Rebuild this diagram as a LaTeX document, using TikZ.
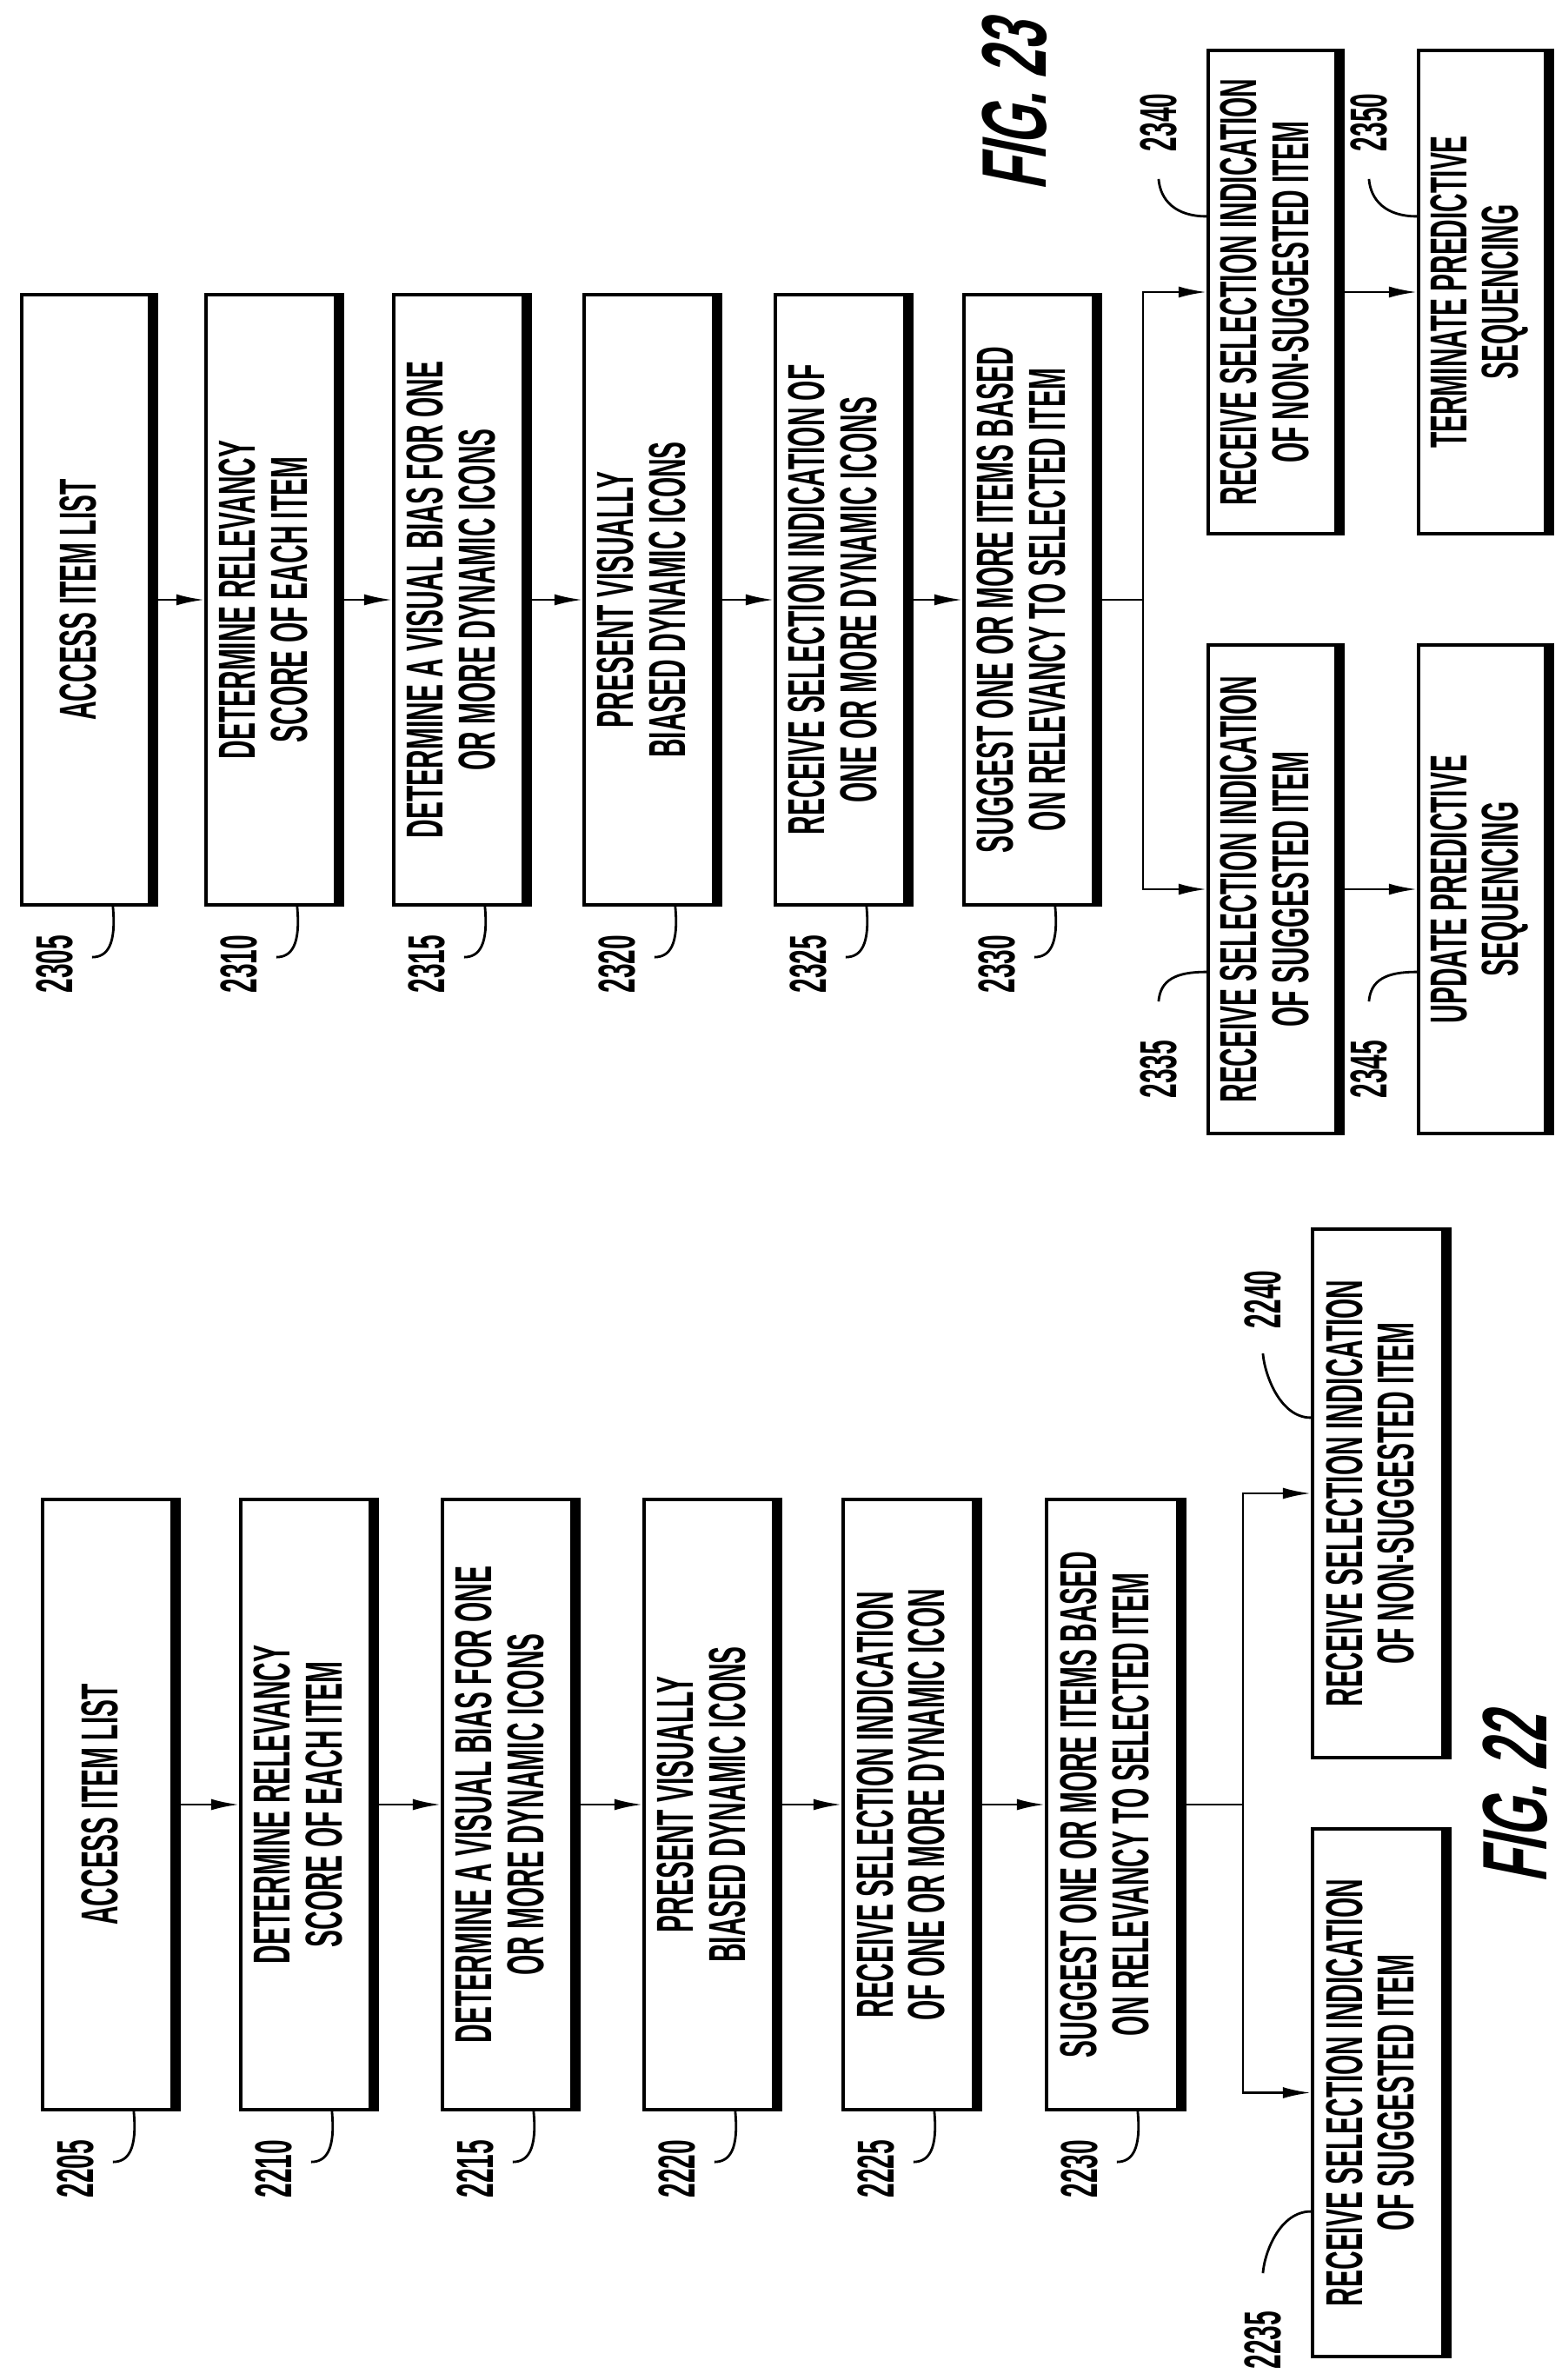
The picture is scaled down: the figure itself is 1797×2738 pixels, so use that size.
\documentclass[tikz,border=0pt]{standalone}
\usepackage{fontspec}
\usetikzlibrary{calc,arrows.meta}
\newfontfamily\pf{Liberation Sans}[FakeStretch=0.5]
\newfontfamily\pfig{Liberation Sans}[FakeStretch=0.55,FakeSlant=0.2]
\tikzset{
  boxstyle/.style={draw,line width=1.2pt,inner sep=0pt,font=\pf\bfseries\fontsize{17}{17}\selectfont},
  arr/.style={line width=0.8pt,-{Latex[length=0.32cm,width=0.13cm]}},
  ln/.style={line width=0.8pt},
  lbl/.style={font=\pf\bfseries\fontsize{17}{17}\selectfont,rotate=90,inner sep=0pt},
  figlbl/.style={font=\pfig\bfseries\fontsize{30}{30}\selectfont,rotate=90,inner sep=0pt}
}
% name, x1, x2, y1, y2, text
\newcommand\mybx[6]{%
  \node[boxstyle,minimum width={(#3-#2)*0.01cm},minimum height={(#5-#4)*0.01cm}] (#1) at ({(#2+#3)/2},{(#4+#5)/2})
   {\rotatebox{90}{\begin{tabular}{@{}c@{}}#6\end{tabular}}};
  \draw[line width=2.6pt] ($(#1.north east)+(3,0)$) -- ($(#1.south east)+(3,0)$);
}
% flow-box label below-left
\newcommand\mylb[2]{%
  \node[lbl] (l#1) at ($(#1.south west)+(40,66)$) {#2};
  \draw[ln] ($(#1.south west)+(107,0)$) .. controls ($(#1.south west)+(111,43)$) and ($(#1.south west)+(101,58)$) .. ($(#1.south west)+(83,58)$);
}
% branch label near top (upper boxes)
\newcommand\mylt[5]{% box, text, S, E, label offsets from nw
  \node[lbl] (l#1) at ($(#1.north west)+(-55,#5)$) {#2};
  \draw[ln] ($(#1.north west)+(0,#3)$) .. controls ($(#1.north west)+(-35,#3)$) and ($(#1.north west)+(-53,{#4+25})$) .. ($(#1.north west)+(-55,#4)$);
}
\newcommand\myltb[5]{% lower boxes, offsets from sw (negative)
  \node[lbl] (l#1) at ($(#1.south west)+(-55,#5)$) {#2};
  \draw[ln] ($(#1.south west)+(0,#3)$) .. controls ($(#1.south west)+(-35,#3)$) and ($(#1.south west)+(-53,{#4-25})$) .. ($(#1.south west)+(-55,#4)$);
}
\begin{document}
\begin{tikzpicture}[x=0.01cm,y=-0.01cm]
\useasboundingbox (0,0) rectangle (1797,2738);
% ---------- FIG 23 ----------
\mybx{b2305}{25}{172}{339}{1041}{ACCESS ITEM LIST}
\mybx{b2310}{237}{386}{339}{1041}{DETERMINE RELEVANCY\\SCORE OF EACH ITEM}
\mybx{b2315}{453}{602}{339}{1041}{DETERMINE A VISUAL BIAS FOR ONE\\OR MORE DYNAMIC ICONS}
\mybx{b2320}{672}{821}{339}{1041}{PRESENT VISUALLY\\BIASED DYNAMIC ICONS}
\mybx{b2325}{892}{1041}{339}{1041}{RECEIVE SELECTION INDICATION OF\\ONE OR MORE DYNAMIC ICONS}
\mybx{b2330}{1109}{1258}{339}{1041}{SUGGEST ONE OR MORE ITEMS BASED\\ON RELEVANCY TO SELECTED ITEM}
\mybx{b2340}{1390}{1537}{58}{614}{RECEIVE SELECTION INDICATION\\OF NON-SUGGESTED ITEM}
\mybx{b2350}{1632}{1778}{58}{614}{TERMINATE PREDICTIVE\\SEQUENCING}
\mybx{b2335}{1390}{1537}{742}{1304}{RECEIVE SELECTION INDICATION\\OF SUGGESTED ITEM}
\mybx{b2345}{1632}{1778}{742}{1304}{UPDATE PREDICTIVE\\SEQUENCING}
\draw[arr] (b2305) -- (b2310);
\draw[arr] (b2310) -- (b2315);
\draw[arr] (b2315) -- (b2320);
\draw[arr] (b2320) -- (b2325);
\draw[arr] (b2325) -- (b2330);
\coordinate (j23) at (1315,690);
\draw[ln] (b2330.east) -- (j23);
\draw[arr] (j23) |- (b2340.west);
\draw[arr] (j23) |- (b2335.west);
\draw[arr] (b2340) -- (b2350);
\draw[arr] (b2335) -- (b2345);
\mylb{b2305}{2305}
\mylb{b2310}{2310}
\mylb{b2315}{2315}
\mylb{b2320}{2320}
\mylb{b2325}{2325}
\mylb{b2330}{2330}
\mylt{b2340}{2340}{193}{150}{85}
\mylt{b2350}{2350}{193}{150}{85}
\myltb{b2335}{2335}{-188}{-154}{-76}
\myltb{b2345}{2345}{-188}{-154}{-76}
\node[figlbl] (f23) at (1167,123) {FIG. 23};
% ---------- FIG 22 ----------
\mybx{b2205}{49}{198}{1725}{2427}{ACCESS ITEM LIST}
\mybx{b2210}{277}{426}{1725}{2427}{DETERMINE RELEVANCY\\SCORE OF EACH ITEM}
\mybx{b2215}{509}{658}{1725}{2427}{DETERMINE A VISUAL BIAS FOR ONE\\OR MORE DYNAMIC ICONS}
\mybx{b2220}{741}{890}{1725}{2427}{PRESENT VISUALLY\\BIASED DYNAMIC ICONS}
\mybx{b2225}{970}{1120}{1725}{2427}{RECEIVE SELECTION INDICATION\\OF ONE OR MORE DYNAMIC ICON}
\mybx{b2230}{1204}{1355}{1725}{2427}{SUGGEST ONE OR MORE ITEMS BASED\\ON RELEVANCY TO SELECTED ITEM}
\mybx{b2240}{1510}{1660}{1414}{2022}{RECEIVE SELECTION INDICATION\\OF NON-SUGGESTED ITEM}
\mybx{b2235}{1510}{1660}{2104}{2711}{RECEIVE SELECTION INDICATION\\OF SUGGESTED ITEM}
\draw[arr] (b2205) -- (b2210);
\draw[arr] (b2210) -- (b2215);
\draw[arr] (b2215) -- (b2220);
\draw[arr] (b2220) -- (b2225);
\draw[arr] (b2225) -- (b2230);
\coordinate (j22) at (1430,2076);
\draw[ln] (b2230.east) -- (j22);
\draw[arr] (j22) |- (b2240.west);
\draw[arr] (j22) |- (b2235.west);
\mylb{b2205}{2205}
\mylb{b2210}{2210}
\mylb{b2215}{2215}
\mylb{b2220}{2220}
\mylb{b2225}{2225}
\mylb{b2230}{2230}
\mylt{b2240}{2240}{219}{145}{83}
\myltb{b2235}{2235}{-169}{-98}{-21}
\node[figlbl] (f22) at (1743,2070) {FIG. 22};
\end{tikzpicture}
\end{document}
